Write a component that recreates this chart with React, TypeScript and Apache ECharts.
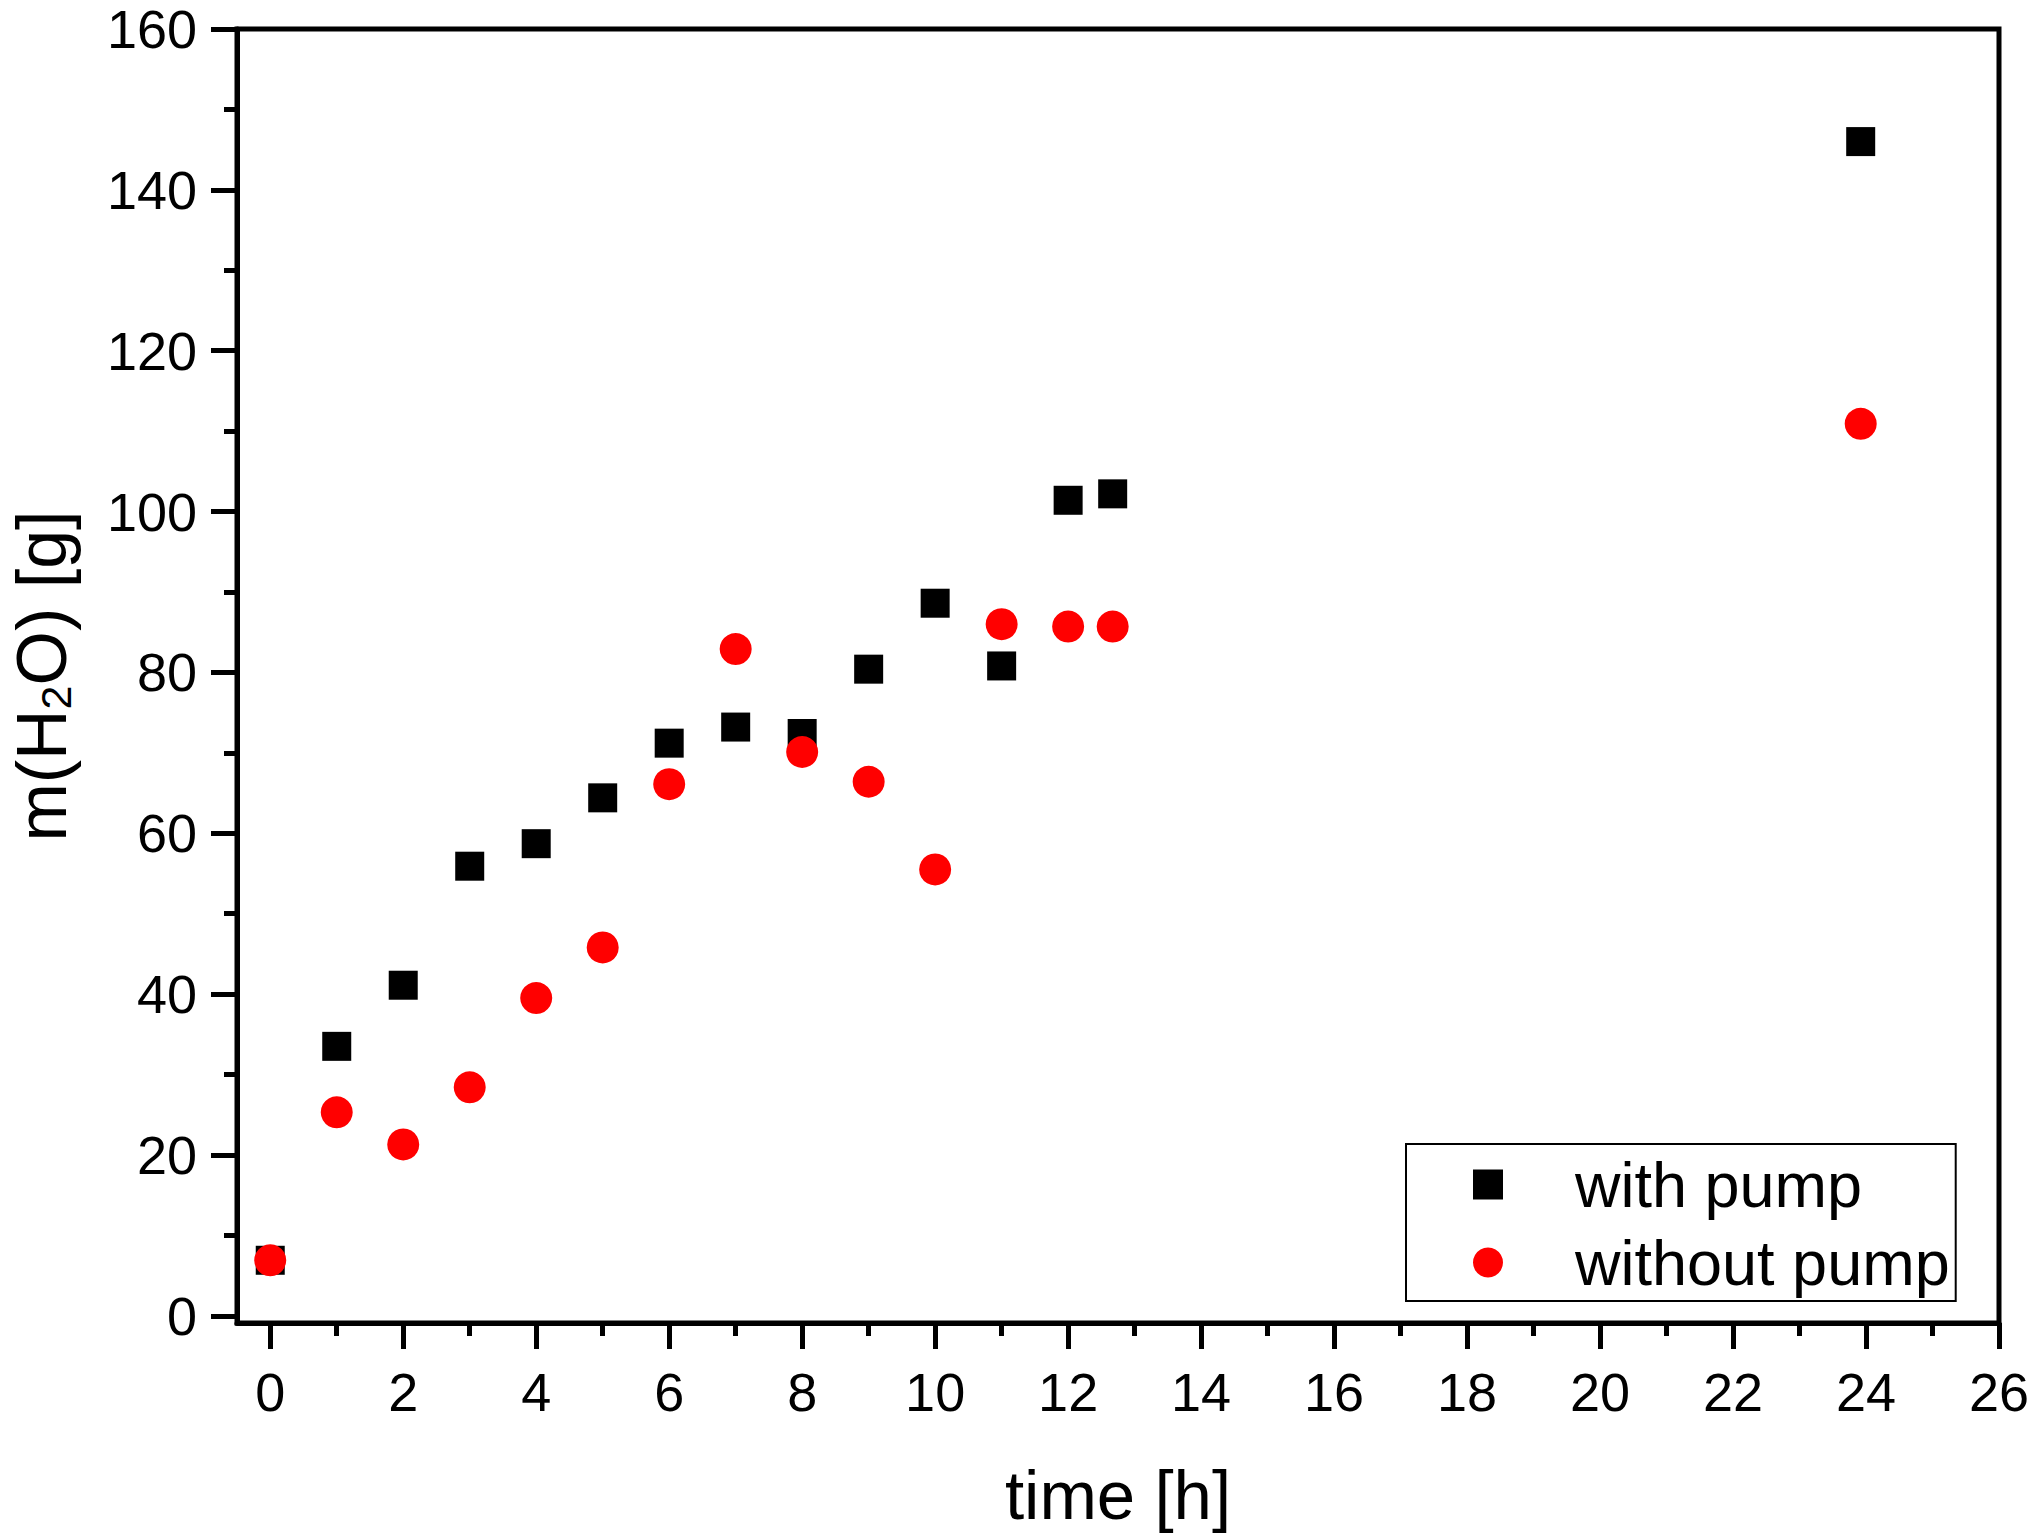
import React, { useEffect, useRef } from "react";
import * as echarts from "echarts";

const timeWithPump = [0, 1, 2, 3, 4, 5, 6, 7, 8, 9, 10, 11, 12, 12.67, 23.92];
const massWithPump = [6.9, 33.5, 41.1, 55.9, 58.7, 64.4, 71.2, 73.2, 72.4, 80.4, 88.6, 80.8, 101.4, 102.2, 146.0];
const timeWithoutPump = [0, 1, 2, 3, 4, 5, 6, 7, 8, 9, 10, 11, 12, 12.67, 23.92];
const massWithoutPump = [6.9, 25.3, 21.3, 28.4, 39.5, 45.8, 66.1, 82.9, 70.1, 66.4, 55.5, 86.0, 85.7, 85.7, 110.9];

const xMajorTicks = [0, 2, 4, 6, 8, 10, 12, 14, 16, 18, 20, 22, 24, 26];
const xMinorTicks = [1, 3, 5, 7, 9, 11, 13, 15, 17, 19, 21, 23, 25];
const yMajorTicks = [0, 20, 40, 60, 80, 100, 120, 140, 160];
const yMinorTicks = [10, 30, 50, 70, 90, 110, 130, 150];

const seriesNames = ["with pump", "without pump"];

const FONT = "'Liberation Sans', Arial, sans-serif";

export default function App() {
  const ref = useRef<HTMLDivElement>(null);
  useEffect(() => {
    if (!ref.current) return;
    const chart = echarts.init(ref.current, null, { renderer: "svg" });
    const xMin = -0.5;
    const xMax = 26;
    const yMin = -0.9;
    const yMax = 160;
    const option = {
      animation: false,
      backgroundColor: "#ffffff",
      grid: {
        left: 237,
        top: 29,
        right: 34,
        bottom: 214,
        show: true,
        borderColor: "#000",
        borderWidth: 5,
        backgroundColor: "transparent",
        containLabel: false,
        outerBoundsMode: "none",
      },
      legend: {
        orient: "vertical",
        left: 1406,
        top: 1144,
        itemWidth: 30,
        itemHeight: 30,
        itemGap: 15,
        padding: [9, 6, 7, 67],
        borderColor: "#000",
        borderWidth: 2,
        selectedMode: false,
        data: [
          { name: seriesNames[0], icon: "rect" },
          { name: seriesNames[1], icon: "circle" },
        ],
        textStyle: {
          fontFamily: FONT,
          fontSize: 63,
          lineHeight: 63,
          color: "#000",
          padding: [0, 0, 0, 67],
        },
      },
      xAxis: [
        {
          type: "value",
          min: xMin,
          max: xMax,
          position: "bottom",
          name: "time [h]",
          nameLocation: "middle",
          nameGap: 138,
          nameTextStyle: { fontFamily: FONT, fontSize: 69, lineHeight: 69, color: "#000" },
          axisLine: { show: true, onZero: false, lineStyle: { color: "#000", width: 5 } },
          axisTick: {
            show: true,
            inside: false,
            length: 26,
            customValues: xMajorTicks,
            lineStyle: { color: "#000", width: 5 },
          },
          axisLabel: {
            show: true,
            customValues: xMajorTicks,
            margin: 42,
            fontFamily: FONT,
            fontSize: 54,
            lineHeight: 54,
            color: "#000",
          },
          splitLine: { show: false },
        },
        {
          type: "value",
          min: xMin,
          max: xMax,
          position: "bottom",
          axisLine: { show: false, onZero: false },
          axisTick: {
            show: true,
            inside: false,
            length: 13,
            customValues: xMinorTicks,
            lineStyle: { color: "#000", width: 5 },
          },
          axisLabel: { show: false },
          splitLine: { show: false },
        },
      ],
      yAxis: [
        {
          type: "value",
          min: yMin,
          max: yMax,
          position: "left",
          name: "{n|m(H}{sub|2}{n|O) [g]}",
          nameLocation: "middle",
          nameGap: 160,
          nameTextStyle: {
            fontFamily: FONT,
            fontSize: 70,
            lineHeight: 70,
            color: "#000",
            rich: {
              n: {
                fontFamily: FONT,
                fontSize: 70,
                lineHeight: 70,
                color: "#000",
                verticalAlign: "top",
              },
              sub: {
                fontFamily: FONT,
                fontSize: 43,
                lineHeight: 43,
                color: "#000",
                verticalAlign: "bottom",
                padding: [38, 0, 0, 0],
              },
            },
          },
          axisLine: { show: true, onZero: false, lineStyle: { color: "#000", width: 5 } },
          axisTick: {
            show: true,
            inside: false,
            length: 26,
            customValues: yMajorTicks,
            lineStyle: { color: "#000", width: 5 },
          },
          axisLabel: {
            show: true,
            customValues: yMajorTicks,
            margin: 40,
            fontFamily: FONT,
            fontSize: 54,
            lineHeight: 54,
            color: "#000",
          },
          splitLine: { show: false },
        },
        {
          type: "value",
          min: yMin,
          max: yMax,
          position: "left",
          axisLine: { show: false, onZero: false },
          axisTick: {
            show: true,
            inside: false,
            length: 13,
            customValues: yMinorTicks,
            lineStyle: { color: "#000", width: 5 },
          },
          axisLabel: { show: false },
          splitLine: { show: false },
        },
      ],
      series: [
        {
          name: seriesNames[0],
          type: "scatter",
          xAxisIndex: 0,
          yAxisIndex: 0,
          symbol: "rect",
          symbolSize: 29,
          itemStyle: { color: "#000000", opacity: 1 },
          data: timeWithPump.map((t, i) => [t, massWithPump[i]]),
          z: 2,
        },
        {
          name: seriesNames[1],
          type: "scatter",
          xAxisIndex: 0,
          yAxisIndex: 0,
          symbol: "circle",
          symbolSize: 32,
          itemStyle: { color: "#ff0000", opacity: 1 },
          data: timeWithoutPump.map((t, i) => [t, massWithoutPump[i]]),
          z: 3,
        },
      ],
    };
    chart.setOption(option);
    return () => chart.dispose();
  }, []);
  return (
    <div
      ref={ref}
      style={{ position: "absolute", left: 0, top: 0, width: 2033, height: 1537, background: "#fff" }}
    />
  );
}
